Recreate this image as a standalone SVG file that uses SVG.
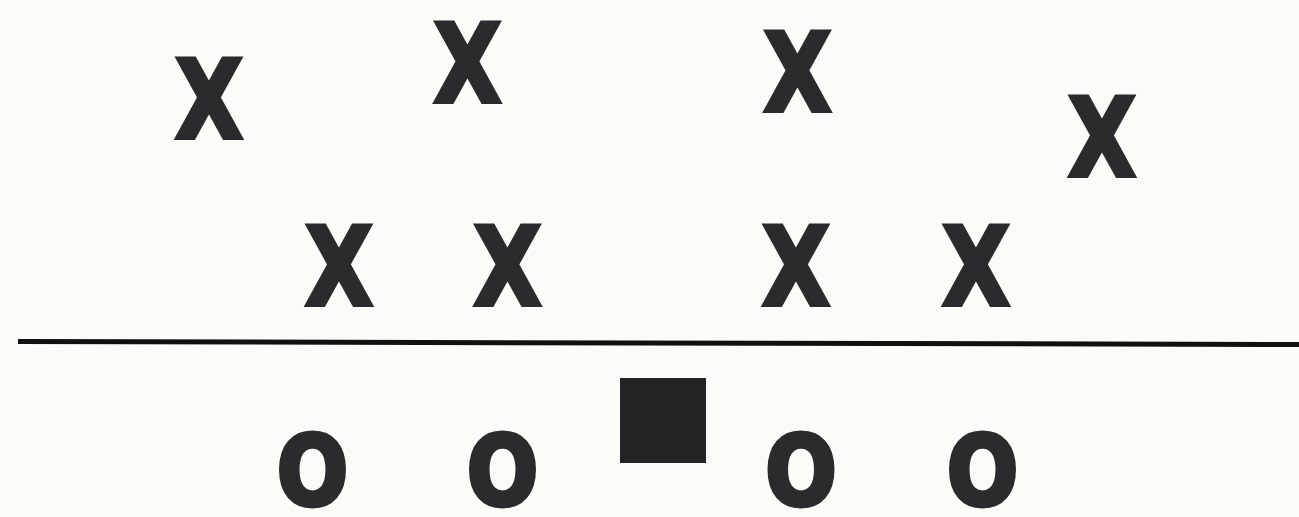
<svg xmlns="http://www.w3.org/2000/svg" width="1299" height="517" viewBox="0 0 1299 517">
<style>
.x{font-family:"DejaVu Sans",sans-serif;font-weight:bold;font-size:108px;fill:#2b2b2d;stroke:#2b2b2d;stroke-width:4;stroke-linejoin:miter;stroke-miterlimit:3;text-anchor:middle}
.o{font-family:"DejaVu Sans",sans-serif;font-weight:bold;font-size:97px;fill:#2b2b2d;stroke:#2b2b2d;stroke-width:5;stroke-linejoin:round;text-anchor:middle}
</style>
<rect x="0" y="0" width="1299" height="517" fill="#fbfcf7"/>
<g id="defense">
<g id="x1"><text class="x" x="209" y="138" textLength="68" lengthAdjust="spacingAndGlyphs">X</text></g>
<g id="x2"><text class="x" x="467.5" y="102" textLength="68" lengthAdjust="spacingAndGlyphs">X</text></g>
<g id="x3"><text class="x" x="797.5" y="111" textLength="68" lengthAdjust="spacingAndGlyphs">X</text></g>
<g id="x4"><text class="x" x="1102" y="176" textLength="68" lengthAdjust="spacingAndGlyphs">X</text></g>
<g id="x5"><text class="x" x="339" y="305" textLength="68" lengthAdjust="spacingAndGlyphs">X</text></g>
<g id="x6"><text class="x" x="507.5" y="305" textLength="68" lengthAdjust="spacingAndGlyphs">X</text></g>
<g id="x7"><text class="x" x="796" y="305" textLength="68" lengthAdjust="spacingAndGlyphs">X</text></g>
<g id="x8"><text class="x" x="976" y="305" textLength="68" lengthAdjust="spacingAndGlyphs">X</text></g>
</g>
<g id="scrimmage">
<line x1="18" y1="341.5" x2="1299" y2="344.5" stroke="#111" stroke-width="5"/>
</g>
<g id="offense">
<g id="center"><rect x="620" y="378" width="86" height="85" fill="#232325"/></g>
<g id="o1"><text class="o" x="312.5" y="504.5" textLength="71" lengthAdjust="spacingAndGlyphs">O</text></g>
<g id="o2"><text class="o" x="502.5" y="504.5" textLength="71" lengthAdjust="spacingAndGlyphs">O</text></g>
<g id="o3"><text class="o" x="801" y="504.5" textLength="71" lengthAdjust="spacingAndGlyphs">O</text></g>
<g id="o4"><text class="o" x="982.5" y="504.5" textLength="71" lengthAdjust="spacingAndGlyphs">O</text></g>
</g>
</svg>
